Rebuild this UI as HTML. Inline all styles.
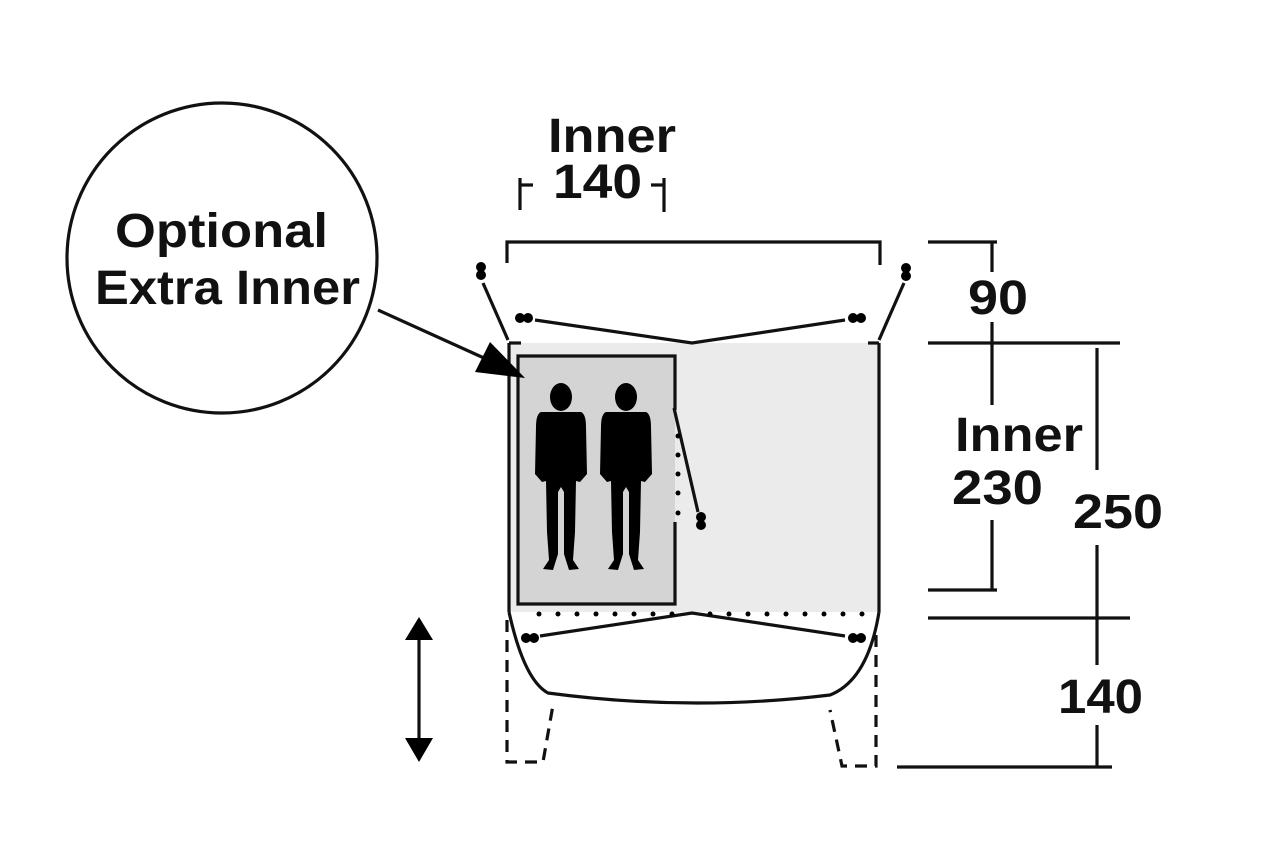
<!DOCTYPE html>
<html><head><meta charset="utf-8"><style>
html,body{margin:0;padding:0;background:#fff;}
svg{display:block}
text{font-family:"Liberation Sans",sans-serif;font-weight:bold;fill:#111;}
</style></head><body>
<svg width="1280" height="846" viewBox="0 0 1280 846" xmlns="http://www.w3.org/2000/svg">
<defs>
<g id="fig">
<ellipse cx="0" cy="5" rx="11" ry="14" fill="#000"/>
<path d="M-20,20 Q-25,22 -25,35 L-26,82 L-19,90 L-15,89 L-14,140 L-12,168 L-18,177 L-8,178 L-3,162 L-3,100 L0,95 L3,100 L3,162 L8,178 L18,177 L12,168 L14,140 L15,89 L19,90 L26,82 L25,35 Q25,22 20,20 Z" fill="#000"/>
</g>
<g id="peg"><circle cx="-4" cy="0" r="5" fill="#000"/><circle cx="4" cy="0" r="5" fill="#000"/></g>
</defs>
<g stroke="#111" stroke-width="3.2" fill="none">
<rect x="509" y="343" width="371" height="269" fill="#ebebeb" stroke="none"/>
<line x1="509" y1="343" x2="509" y2="612"/>
<line x1="879" y1="343" x2="879" y2="612"/>
<line x1="509" y1="343" x2="521" y2="343"/>
<line x1="868" y1="343" x2="879" y2="343"/>
<rect x="518" y="356" width="157" height="248" fill="#d4d4d4" stroke="none"/>
<path d="M675,410 L675,356 L518,356 L518,604 L675,604 L675,522"/>
<path d="M507,263 L507,242 L880,242 L880,265"/>
<line x1="483" y1="283" x2="508" y2="340"/>
<line x1="904" y1="283" x2="879" y2="340"/>
<path d="M535,320 L692,343 L845,320"/>
<line x1="674" y1="408" x2="698" y2="512"/>
<path d="M509,612 Q524,680 548,693 Q690,712 830,695 Q868,680 879,612"/>
<path d="M540,636 L692,613 L845,636"/>
<path d="M507,620 L507,762 L543,762 L553,705" stroke-dasharray="12,8"/>
<path d="M876,635 L876,766 L842,766 L830,710" stroke-dasharray="12,8"/>
<line x1="928" y1="242" x2="997" y2="242"/>
<line x1="928" y1="343" x2="1120" y2="343"/>
<line x1="928" y1="590" x2="997" y2="590"/>
<line x1="928" y1="618" x2="1130" y2="618"/>
<line x1="897" y1="767" x2="1112" y2="767"/>
<line x1="992" y1="242" x2="992" y2="272"/>
<line x1="992" y1="322" x2="992" y2="405"/>
<line x1="992" y1="520" x2="992" y2="590"/>
<line x1="1097" y1="348" x2="1097" y2="470"/>
<line x1="1097" y1="545" x2="1097" y2="665"/>
<line x1="1097" y1="725" x2="1097" y2="767"/>
<path d="M520,178 L520,210 M520,185 L533,185 M651,185 L664,185 M664,178 L664,212"/>
<circle cx="222" cy="258" r="155"/>
<line x1="378" y1="310" x2="495" y2="363"/>
<line x1="419" y1="630" x2="419" y2="750"/>
</g>
<polygon points="525,378 475,372 490,342" fill="#000"/>
<polygon points="405,640 433,640 419,617" fill="#000"/>
<polygon points="405,738 433,738 419,762" fill="#000"/>
<g fill="#000">
<circle cx="678" cy="436" r="2.5"/><circle cx="678" cy="455" r="2.5"/><circle cx="678" cy="474" r="2.5"/><circle cx="678" cy="493" r="2.5"/><circle cx="678" cy="513" r="2.5"/>
</g>
<g fill="#000">
<circle cx="539" cy="614" r="2.5"/><circle cx="558" cy="614" r="2.5"/><circle cx="577" cy="614" r="2.5"/><circle cx="596" cy="614" r="2.5"/><circle cx="615" cy="614" r="2.5"/><circle cx="634" cy="614" r="2.5"/><circle cx="653" cy="614" r="2.5"/><circle cx="672" cy="614" r="2.5"/><circle cx="710" cy="614" r="2.5"/><circle cx="729" cy="614" r="2.5"/><circle cx="748" cy="614" r="2.5"/><circle cx="767" cy="614" r="2.5"/><circle cx="786" cy="614" r="2.5"/><circle cx="805" cy="614" r="2.5"/><circle cx="824" cy="614" r="2.5"/><circle cx="843" cy="614" r="2.5"/><circle cx="862" cy="614" r="2.5"/>
</g>
<use href="#peg" transform="translate(481,271) rotate(90)"/>
<use href="#peg" transform="translate(906,272) rotate(90)"/>
<use href="#peg" x="524" y="318"/>
<use href="#peg" x="857" y="318"/>
<use href="#peg" x="530" y="638"/>
<use href="#peg" x="857" y="638"/>
<use href="#peg" transform="translate(701,521) rotate(90)"/>
<use href="#fig" transform="translate(561,392)"/>
<use href="#fig" transform="translate(626,392)"/>
<text x="548" y="152" font-size="48" textLength="128" lengthAdjust="spacingAndGlyphs">Inner</text>
<text x="553" y="198" font-size="48" textLength="89" lengthAdjust="spacingAndGlyphs">140</text>
<text x="115" y="247" font-size="48" textLength="213" lengthAdjust="spacingAndGlyphs">Optional</text>
<text x="95" y="304" font-size="48" textLength="265" lengthAdjust="spacingAndGlyphs">Extra Inner</text>
<text x="968" y="314" font-size="48" textLength="60" lengthAdjust="spacingAndGlyphs">90</text>
<text x="955" y="451" font-size="48" textLength="128" lengthAdjust="spacingAndGlyphs">Inner</text>
<text x="952" y="504" font-size="48" textLength="91" lengthAdjust="spacingAndGlyphs">230</text>
<text x="1073" y="528" font-size="48" textLength="90" lengthAdjust="spacingAndGlyphs">250</text>
<text x="1058" y="713" font-size="48" textLength="85" lengthAdjust="spacingAndGlyphs">140</text>
</svg>
</body></html>
